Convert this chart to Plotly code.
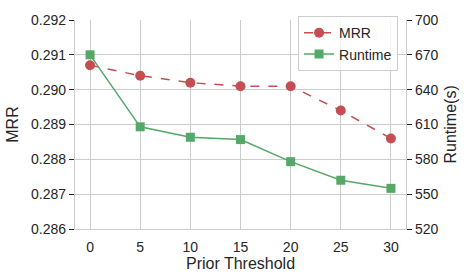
import plotly.graph_objects as go

thresholds = [0, 5, 10, 15, 20, 25, 30]
mrr = [0.2907, 0.2904, 0.2902, 0.2901, 0.2901, 0.2894, 0.2886]
runtime = [670, 608, 599, 597, 578, 562, 555]

red = "#C44E52"
green = "#55A868"
font = "Liberation Sans, Arial, sans-serif"

fig = go.Figure()
fig.add_trace(go.Scatter(x=thresholds, y=mrr, name="MRR", mode="lines+markers",
                         line=dict(color=red, width=1.5, dash="dash"),
                         marker=dict(symbol="circle", size=10, color=red), yaxis="y"))
fig.add_trace(go.Scatter(x=thresholds, y=runtime, name="Runtime", mode="lines+markers",
                         line=dict(color=green, width=1.5),
                         marker=dict(symbol="square", size=9, color=green), yaxis="y2"))

axis_common = dict(showline=True, linecolor="#cccccc", linewidth=1.2, gridcolor="#cccccc",
                   gridwidth=1, zeroline=False, tickfont=dict(size=14, color="#262626"),
                   mirror=False)

fig.update_layout(
    width=464, height=279,
    margin=dict(l=71, r=58, t=12, b=50),
    paper_bgcolor="white", plot_bgcolor="white",
    font=dict(family=font, color="#262626"),
    showlegend=True,
    xaxis=dict(range=[-1.5, 31.5], tickvals=thresholds, ticks="", ticklabelstandoff=5,
               title=dict(text="Prior Threshold", font=dict(size=16), standoff=0),
               **axis_common),
    yaxis=dict(range=[0.286, 0.292], tickvals=[0.286, 0.287, 0.288, 0.289, 0.290, 0.291, 0.292],
               tickformat=".3f", ticks="outside", ticklen=5, tickcolor="#262626",
               title=dict(text="MRR", font=dict(size=16), standoff=8),
               **axis_common),
    yaxis2=dict(range=[520, 700], tickvals=[520, 550, 580, 610, 640, 670, 700],
                overlaying="y", side="right", ticks="outside", ticklen=5, tickcolor="#262626",
                showgrid=False,
                showline=True, linecolor="#cccccc", linewidth=1.2, zeroline=False,
                tickfont=dict(size=14, color="#262626")),
    legend=dict(x=0.976, y=1.018, xanchor="right", yanchor="top",
                bordercolor="#cccccc", borderwidth=1, bgcolor="rgba(255,255,255,0.8)",
                font=dict(size=14, color="#262626")),
    annotations=[dict(text="Runtime(s)", xref="paper", yref="paper", x=1, y=0.5,
                      xanchor="center", yanchor="middle", xshift=44, textangle=-90,
                      showarrow=False, font=dict(size=16, color="#262626"))],
)

fig.write_html("out.html", config={"displayModeBar": False},
               post_script="document.body.style.margin='0';")
